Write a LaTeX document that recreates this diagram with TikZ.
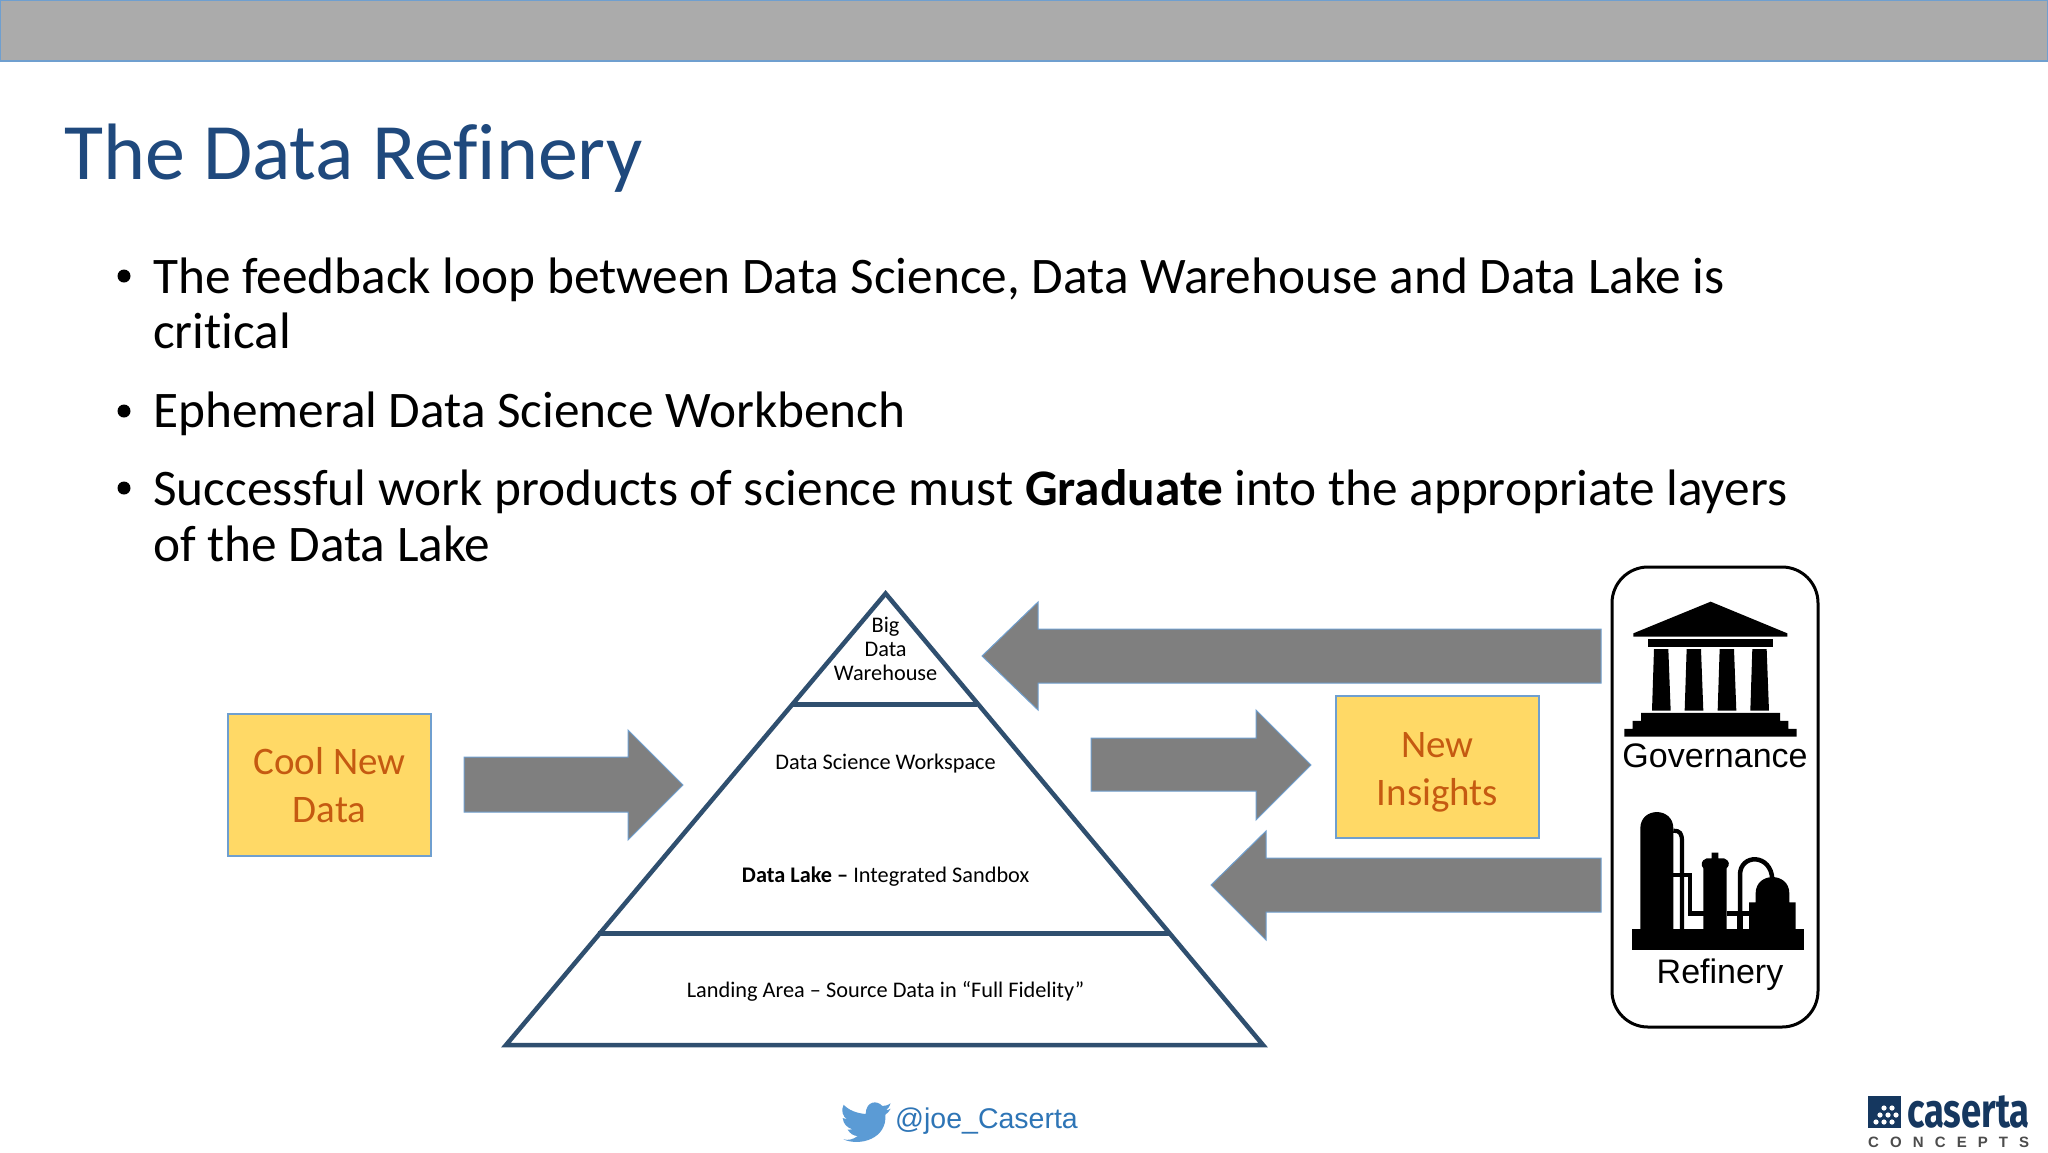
\documentclass[tikz,border=0pt]{standalone}
\usepackage{fontspec}
\setmainfont[Ligatures=NoCommon]{Carlito}
\newfontfamily\arialfont{Liberation Sans}
\newfontfamily\logofont{Fira Sans}
\usetikzlibrary{positioning}
\definecolor{barcol}{HTML}{ABABAB}
\definecolor{edgecol}{HTML}{6F9FCF}
\definecolor{titlecol}{HTML}{1F497D}
\definecolor{shaftcol}{HTML}{7F7F7F}
\definecolor{pyrcol}{HTML}{2F4F6F}
\definecolor{boxcol}{HTML}{FFD966}
\definecolor{boxtext}{HTML}{C55A11}
\definecolor{birdcol}{HTML}{5B9BD5}
\definecolor{handlecol}{HTML}{2E75B6}
\definecolor{logocol}{HTML}{15375F}
\newcommand{\boxline}[2]{\raisebox{-#1pt}[0pt][0pt]{#2}}
\tikzset{
	bulletline/.style = {anchor=base west, inner sep=0, font=\fontsize{51.3}{55}\selectfont},
	bulletdot/.style = {circle, fill=black, inner sep=0, minimum size=13},
	fatarrow/.style = {fill=shaftcol, draw=edgecol, line width=1},
	pyrline/.style = {draw=pyrcol, line width=4.5},
	pyrlabel/.style = {inner sep=0, align=center, font=\fontsize{22.3}{24}\selectfont},
	notebox/.style = {fill=boxcol, draw=edgecol, line width=1.2, minimum width=203, minimum height=142, align=center, text=boxtext, font=\fontsize{39}{48}\selectfont},
	iconlabel/.style = {anchor=base, inner sep=0, font=\arialfont\fontsize{34}{40}\selectfont}
}
\begin{document}
\begin{tikzpicture}[x=1pt, y=-1pt]
	\useasboundingbox (0,0) rectangle (2048,1152);
	\fill [white] (0,0) rectangle (2048,1152);
	\draw [fill=barcol, draw=edgecol, line width=1.2] (0,0) rectangle (2048,61);

	\node [anchor=base west, inner sep=0, text=titlecol, font=\fontsize{80}{84}\selectfont] (title) at (64,179) {The Data Refinery};

	\node [bulletdot] (dotA) at (124,276) {};
	\node [bulletdot] (dotB) at (124,411) {};
	\node [bulletdot] (dotC) at (124,488) {};
	\node [bulletline] (lineA) at (153,293) {The feedback loop between Data Science, Data Warehouse and Data Lake is};
	\node [bulletline] (lineAb) at (153,348) {critical};
	\node [bulletline] (lineB) at (153,427) {Ephemeral Data Science Workbench};
	\node [bulletline] (lineC) at (153,505) {Successful work products of science must \textbf{Graduate} into the appropriate layers};
	\node [bulletline] (lineCb) at (153,561) {of the Data Lake};

	\draw [pyrline] (506,1045) -- (885.6,593.5) -- (1263,1045) -- cycle;
	\draw [pyrline] (792,704.7) -- (977,704.7);
	\draw [pyrline] (598,933.7) -- (1171,933.7);
	\node [pyrlabel] (warehouse) at (885.6,649) {Big\\Data\\Warehouse};
	\node [pyrlabel] (workspace) at (885.6,764) {Data Science Workspace};
	\node [pyrlabel] (lake) at (885.6,877) {\textbf{Data Lake –} Integrated Sandbox};
	\node [pyrlabel] (landing) at (885.6,991) {Landing Area – Source Data in “Full Fidelity”};

	\node [notebox] (coolbox) at (329.5,785) {\boxline{13}{Cool New}\\\boxline{13}{Data}};
	\node [notebox] (insightbox) at (1437.5,767) {\boxline{14}{New}\\\boxline{14}{Insights}};

	\draw [fatarrow] (464,757) -- (628,757) -- (628,730) -- (683,785) -- (628,840) -- (628,812) -- (464,812) -- cycle;
	\draw [fatarrow] (1601,629) -- (1038,629) -- (1038,602) -- (982,656) -- (1038,710) -- (1038,683) -- (1601,683) -- cycle;
	\draw [fatarrow] (1091,738) -- (1256,738) -- (1256,710) -- (1311,765) -- (1256,820) -- (1256,791) -- (1091,791) -- cycle;
	\draw [fatarrow] (1601,858) -- (1266,858) -- (1266,831) -- (1211,885) -- (1266,940) -- (1266,912) -- (1601,912) -- cycle;

	\draw [black, line width=3, rounded corners=36] (1612,567) rectangle (1818,1027);

	\begin{scope}[shift={(1580,550)}, scale=0.3333]
		\fill (160,250) -- (392,155) -- (622,250) -- (622,260) -- (160,260) -- cycle;
		\fill (205,266) rectangle (578,290);
		\foreach \col in {0,98,197,295}
			\fill (222+\col,297) -- (265+\col,297) -- (272+\col,482) -- (216+\col,482) -- cycle;
		\fill (183,489) -- (600,489) -- (600,513) -- (625,513) -- (625,537) -- (650,537) -- (650,560) -- (133,560) -- (133,537) -- (158,537) -- (158,513) -- (183,513) -- cycle;

		\fill (155,1137) rectangle (673,1200);
		\fill (181,1140) -- (181,835) .. controls (181,770) and (280,770) .. (280,835) -- (280,1140) -- cycle;
		\draw [line width=4.2] (280,842) .. controls (300,842) and (306,850) .. (306,875) -- (306,1140);
		\draw [line width=4.5] (280,975) -- (330,975) -- (330,1090) -- (375,1090);
		\fill (370,1140) -- (370,955) .. controls (362,945) and (362,932) .. (380,925) -- (395,925) -- (395,908) -- (415,908) -- (415,925) -- (432,925) .. controls (450,932) and (450,945) .. (440,955) -- (440,1140) -- cycle;
		\draw [line width=4.5] (440,1090) -- (515,1090);
		\fill (470,1090) rectangle (490,1140);
		\draw [line width=4.5] (480,1090) -- (480,975) .. controls (480,910) and (575,910) .. (577,990);
		\fill (507,1140) -- (507,1057) -- (527,1057) -- (527,1030) .. controls (527,965) and (628,965) .. (628,1030) -- (628,1057) -- (647,1057) -- (647,1140) -- cycle;
	\end{scope}
	\node [iconlabel] (governance) at (1715,767) {Governance};
	\node [iconlabel] (refinery) at (1720,983) {Refinery};

	\begin{scope}[shift={(800,1080)}, scale=0.3333]
		\fill [birdcol] (272,70) .. controls (262,76) and (256,78) .. (247,78) .. controls (232,60) and (198,62) .. (197,102) .. controls (170,100) and (145,90) .. (131,74) .. controls (122,92) and (128,108) .. (141,118) .. controls (135,118) and (132,116) .. (128,114) .. controls (130,132) and (142,144) .. (158,148) .. controls (152,150) and (148,150) .. (143,149) .. controls (150,160) and (160,168) .. (173,168) .. controls (160,178) and (146,182) .. (130,178) .. controls (180,200) and (262,176) .. (256,104) .. controls (262,100) and (268,94) .. (272,86) .. controls (266,90) and (262,90) .. (258,90) .. controls (264,86) and (270,78) .. (272,70) -- cycle;
	\end{scope}
	\node [anchor=base west, inner sep=0, text=handlecol, font=\arialfont\fontsize{28.5}{32}\selectfont] (handle) at (895,1128) {@joe\_Caserta};

	\fill [logocol] (1868,1096) rectangle (1901,1128);
	\foreach \hx/\hy in {1884/1108, 1892/1108, 1880/1115, 1888/1115, 1896/1115, 1876/1122, 1884/1122, 1892/1122}
		\fill [white] (\hx,\hy) circle (2.6);
	\node [anchor=base west, inner sep=0, text=logocol, xscale=0.76, font=\logofont\bfseries\fontsize{48}{50}\selectfont] (caserta) at (1907,1127) {caserta};
	\node [anchor=base west, inner sep=0, text=black!70, font=\arialfont\bfseries\addfontfeature{LetterSpace=74}\fontsize{15}{16}\selectfont] (concepts) at (1868,1147) {CONCEPTS};
\end{tikzpicture}
\end{document}
